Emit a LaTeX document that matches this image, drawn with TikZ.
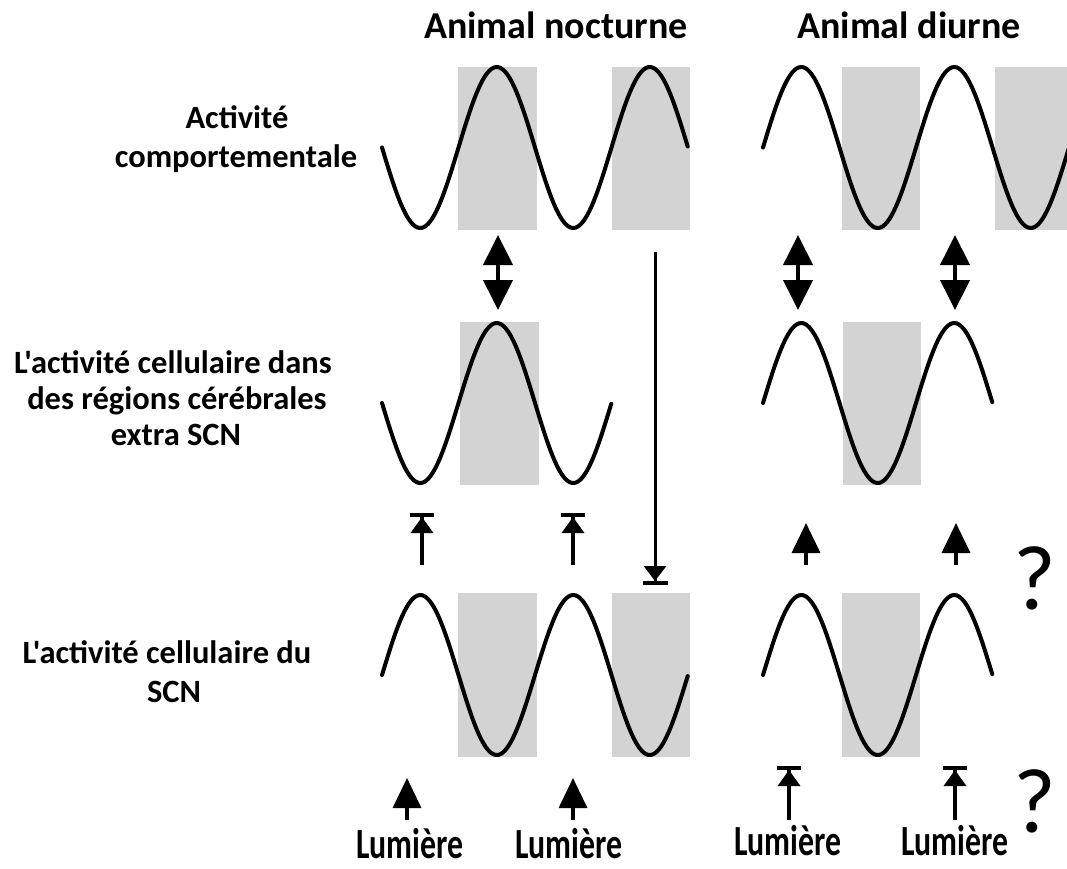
\documentclass[tikz,border=0pt]{standalone}
\usepackage{fontspec}
\setmainfont{Carlito}[Ligatures=TeXOff]
\usetikzlibrary{arrows.meta}
\definecolor{shade}{RGB}{211,211,211}
\begin{document}
\begin{tikzpicture}[x=1pt,y=-1pt,
  wave/.style={line width=4pt, line cap=round},
  band/.style={fill=shade, draw=none},
  lbl/.style={font=\fontsize{32.5}{38}\selectfont\bfseries, inner sep=0pt, anchor=base},
  ttl/.style={font=\fontsize{38}{44}\selectfont\bfseries, inner sep=0pt, anchor=base},
  qm/.style={font=\fontsize{92}{96}\selectfont, inner sep=0pt},
  lum/.style={inner sep=0pt, anchor=base},
  dbl/.style={line width=4pt, {Triangle[width=29pt,length=30pt]}-{Triangle[width=29pt,length=30pt]}},
  upar/.style={line width=3.5pt, -{Triangle[width=28pt,length=30pt]}},
  tbar/.style={line width=3.5pt, -{Triangle[width=22pt,length=16pt] Bar[width=24pt,line width=4pt]}},
  longbar/.style={line width=3pt, -{Triangle[width=22pt,length=15pt] Bar[width=25pt,line width=4pt]}}
]
\useasboundingbox (0,0) rectangle (1067,868);

% gray bands
\fill[band] (458,67) rectangle (537,230);
\fill[band] (612,67) rectangle (690,230);
\fill[band] (842,67) rectangle (920,230);
\fill[band] (995,67) rectangle (1067,230);
\fill[band] (460,322) rectangle (539,485);
\fill[band] (843,322) rectangle (921,485);
\fill[band] (458,593) rectangle (537,757);
\fill[band] (612,593) rectangle (690,757);
\fill[band] (842,593) rectangle (920,757);

% waves
\begin{scope}
\clip (0,0) rectangle (1067,868);
\draw[wave] plot[domain=0:2, samples=140, smooth] ({382+153*\x}, {147.5+80.5*sin(360*\x)});
\draw[wave] plot[domain=0:2.02, samples=140, smooth] ({763+153*\x}, {147.5-80.5*sin(360*\x)});
\draw[wave] plot[domain=0:1.5, samples=110, smooth] ({382+153*\x}, {403+80*sin(360*\x)});
\draw[wave] plot[domain=0:1.5, samples=110, smooth] ({763+153*\x}, {403-80*sin(360*\x)});
\draw[wave] plot[domain=0:2, samples=140, smooth] ({382+153*\x}, {675-80*sin(360*\x)});
\draw[wave] plot[domain=0:1.5, samples=110, smooth] ({763+153*\x}, {675-80*sin(360*\x)});
\end{scope}

% titles
\node[ttl] (tnoc) at (556,38) {Animal nocturne};
\node[ttl] (tdiu) at (909,38) {Animal diurne};

% left labels
\node[lbl] (a1) at (237,128) {Activité};
\node[lbl] (a2) at (236,167) {comportementale};
\node[lbl] (b1) at (173,373) {L'activité cellulaire dans};
\node[lbl] (b2) at (177,409) {des régions cérébrales};
\node[lbl] (b3) at (176,445) {extra SCN};
\node[lbl] (c1) at (167,663) {L'activité cellulaire du};
\node[lbl] (c2) at (174,702) {SCN};

% arrow end points
\coordinate (d1a) at (498,235); \coordinate (d1b) at (498,310);
\coordinate (d2a) at (798,235); \coordinate (d2b) at (798,310);
\coordinate (d3a) at (955,235); \coordinate (d3b) at (955,310);
\coordinate (m1s) at (422,565); \coordinate (m1e) at (422,513);
\coordinate (m2s) at (573,565); \coordinate (m2e) at (573,513);
\coordinate (ls) at (655,252);  \coordinate (le) at (655,585);
\coordinate (m3s) at (806,565); \coordinate (m3e) at (806,523);
\coordinate (m4s) at (956,565); \coordinate (m4e) at (956,523);
\coordinate (b1s) at (407,820); \coordinate (b1e) at (407,778);
\coordinate (b2s) at (573,820); \coordinate (b2e) at (573,778);
\coordinate (b3s) at (789,820); \coordinate (b3e) at (789,766);
\coordinate (b4s) at (955,820); \coordinate (b4e) at (955,766);

\draw[dbl] (d1a) -- (d1b);
\draw[dbl] (d2a) -- (d2b);
\draw[dbl] (d3a) -- (d3b);
\draw[tbar] (m1s) -- (m1e);
\draw[tbar] (m2s) -- (m2e);
\draw[longbar] (ls) -- (le);
\draw[upar] (m3s) -- (m3e);
\draw[upar] (m4s) -- (m4e);
\draw[upar] (b1s) -- (b1e);
\draw[upar] (b2s) -- (b2e);
\draw[tbar] (b3s) -- (b3e);
\draw[tbar] (b4s) -- (b4e);

% question marks
\node[qm] (q1) at (1035,578) {?};
\node[qm] (q2) at (1035,801) {?};

% Lumiere labels
\node[lum] (l1) at (410,858) {\scalebox{0.74}[1]{\fontsize{43}{48}\selectfont\bfseries Lumière}};
\node[lum] (l2) at (569,858) {\scalebox{0.74}[1]{\fontsize{43}{48}\selectfont\bfseries Lumière}};
\node[lum] (l3) at (788,855) {\scalebox{0.74}[1]{\fontsize{43}{48}\selectfont\bfseries Lumière}};
\node[lum] (l4) at (955,855) {\scalebox{0.74}[1]{\fontsize{43}{48}\selectfont\bfseries Lumière}};
\end{tikzpicture}
\end{document}
